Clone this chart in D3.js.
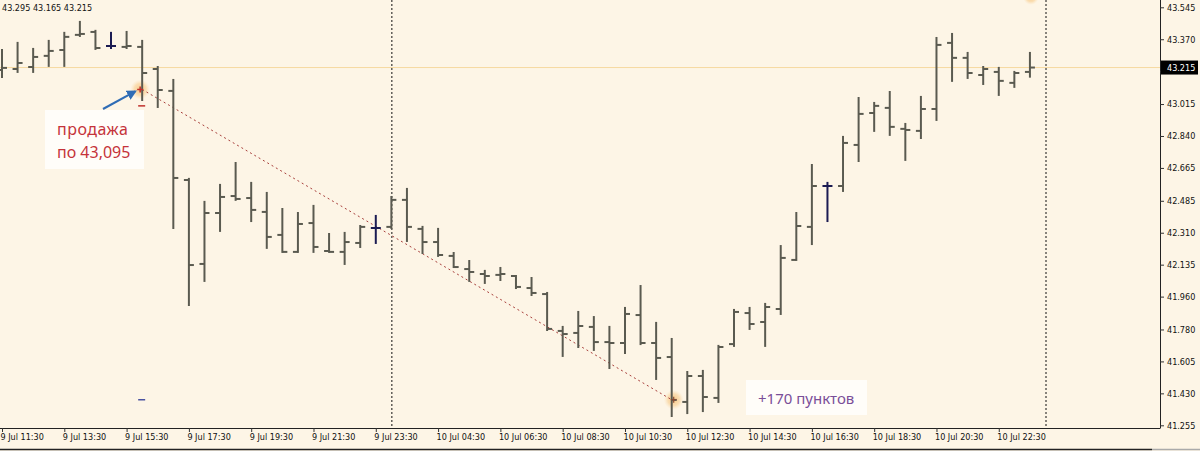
<!DOCTYPE html>
<html>
<head>
<meta charset="utf-8">
<script src="https://cdn.jsdelivr.net/npm/d3@7"></script>
<style>
  body { margin: 0; background: #fdf5e6; }
  svg { display: block; }
</style>
</head>
<body>
<div id="chart"></div>
<script>
// 30 min bars, 9 Jul 11:30 .. 10 Jul 23:30
var opens  = [43.202, 43.207, 43.218, 43.279, 43.311, 43.394, 43.410, 43.333, 43.328, 43.328,
              43.207, 43.087, 42.599, 42.139, 42.418, 42.511, 42.500, 42.424, 42.298, 42.205,
              42.363, 42.210, 42.205, 42.254, 42.336, 42.342, 42.490, 42.331, 42.259, 42.183,
              42.111, 42.084, 42.079, 42.073, 42.007, 41.974, 41.772, 41.761, 41.794, 41.711,
              41.706, 41.859, 41.706, 41.629, 41.383, 41.525, 41.405, 41.700, 41.870, 41.821,
              41.892, 42.161, 42.342, 42.566, 42.566, 42.791, 42.966, 42.994, 42.879, 42.868,
              42.988, 43.350, 43.268, 43.174, 43.191, 43.131, 43.191];
var highs  = [43.311, 43.350, 43.317, 43.361, 43.405, 43.465, 43.416, 43.405, 43.410, 43.361,
              43.218, 43.147, 42.605, 42.479, 42.572, 42.692, 42.583, 42.528, 42.440, 42.418,
              42.457, 42.303, 42.309, 42.347, 42.402, 42.506, 42.550, 42.342, 42.331, 42.199,
              42.155, 42.101, 42.117, 42.073, 42.062, 41.980, 41.794, 41.876, 41.848, 41.794,
              41.898, 42.018, 41.816, 41.728, 41.547, 41.553, 41.690, 41.887, 41.898, 41.920,
              42.237, 42.418, 42.681, 42.583, 42.835, 43.048, 43.021, 43.081, 42.906, 43.054,
              43.377, 43.399, 43.295, 43.218, 43.213, 43.191, 43.295];
var lows   = [43.163, 43.191, 43.191, 43.224, 43.224, 43.388, 43.317, 43.322, 43.322, 43.037,
              42.999, 42.336, 41.914, 42.046, 42.320, 42.490, 42.374, 42.227, 42.205, 42.205,
              42.205, 42.205, 42.139, 42.232, 42.254, 42.336, 42.265, 42.199, 42.183, 42.122,
              42.046, 42.035, 42.051, 42.007, 41.969, 41.777, 41.635, 41.684, 41.668, 41.569,
              41.651, 41.700, 41.509, 41.306, 41.322, 41.333, 41.383, 41.690, 41.783, 41.690,
              41.865, 42.161, 42.248, 42.374, 42.539, 42.703, 42.868, 42.846, 42.709, 42.829,
              42.928, 43.142, 43.158, 43.125, 43.065, 43.109, 43.165];
var closes = [43.213, 43.240, 43.273, 43.306, 43.383, 43.399, 43.322, 43.333, 43.333, 43.185,
              43.092, 42.610, 42.133, 42.418, 42.506, 42.495, 42.435, 42.287, 42.205, 42.358,
              42.232, 42.205, 42.259, 42.342, 42.336, 42.490, 42.342, 42.259, 42.188, 42.122,
              42.095, 42.073, 42.084, 42.013, 41.980, 41.783, 41.755, 41.799, 41.711, 41.706,
              41.865, 41.706, 41.624, 41.394, 41.525, 41.410, 41.684, 41.876, 41.810, 41.903,
              42.172, 42.347, 42.566, 42.566, 42.802, 42.961, 43.005, 42.890, 42.873, 42.988,
              43.339, 43.268, 43.185, 43.207, 43.142, 43.185, 43.215];

var xLabels = ["9 Jul 11:30", "9 Jul 13:30", "9 Jul 15:30", "9 Jul 17:30", "9 Jul 19:30",
               "9 Jul 21:30", "9 Jul 23:30", "10 Jul 04:30", "10 Jul 06:30", "10 Jul 08:30",
               "10 Jul 10:30", "10 Jul 12:30", "10 Jul 14:30", "10 Jul 16:30", "10 Jul 18:30",
               "10 Jul 20:30", "10 Jul 22:30"];
// 43.195 sits under the last-price box, so it has a tick but no label
var yTicks = [43.545, 43.370, 43.195, 43.015, 42.840, 42.665, 42.485, 42.310,
              42.135, 41.960, 41.780, 41.605, 41.430, 41.255];
var hiddenTick = 43.195;

var lastPrice = 43.215;
var separators = [25, 67];           // day separator bars
var trade = {openBar: 9, openPrice: 43.095, closeBar: 43, closePrice: 41.395};

var W = 1200, H = 451;
var plotRight = 1160, plotBottom = 428;
var font = "Tahoma, 'DejaVu Sans Condensed', sans-serif";

var svg = d3.select("#chart").append("svg")
    .attr("width", W)
    .attr("height", H);

svg.append("rect").attr("width", W).attr("height", H).attr("fill", "#fdf5e6");

var defs = svg.append("defs");
defs.append("clipPath").attr("id", "plot")
  .append("rect").attr("x", 0).attr("y", 0).attr("width", plotRight).attr("height", plotBottom);
var glow = defs.append("radialGradient").attr("id", "glow");
glow.append("stop").attr("offset", "0%").attr("stop-color", "#f7c27a").attr("stop-opacity", 0.9);
glow.append("stop").attr("offset", "60%").attr("stop-color", "#f8cf92").attr("stop-opacity", 0.6);
glow.append("stop").attr("offset", "100%").attr("stop-color", "#fbe2bb").attr("stop-opacity", 0);
defs.append("marker").attr("id", "arrow")
    .attr("viewBox", "0 0 10 10").attr("refX", 8).attr("refY", 5)
    .attr("markerWidth", 5).attr("markerHeight", 5).attr("orient", "auto")
  .append("path").attr("d", "M0,0 L10,5 L0,10 z").attr("fill", "#2f6cb5");

var x = d3.scaleLinear().domain([0, 67]).range([2, 1045.5]);
var y = d3.scaleLinear().domain([41.255, 43.545]).range([425.3, 7.3]);

var plot = svg.append("g").attr("clip-path", "url(#plot)");

// last price line
plot.append("line")
    .attr("x1", 0).attr("x2", plotRight)
    .attr("y1", y(lastPrice)).attr("y2", y(lastPrice))
    .attr("stroke", "#f6d9a0").attr("stroke-width", 1);

// day separators
plot.selectAll(".sep").data(separators).enter().append("line")
    .attr("class", "sep")
    .attr("x1", d => x(d) + 0.5).attr("x2", d => x(d) + 0.5)
    .attr("y1", 0).attr("y2", plotBottom)
    .attr("stroke", "#111").attr("stroke-width", 1)
    .attr("stroke-dasharray", "2,2");

// glow markers
plot.append("circle").attr("cx", x(trade.openBar) - 2).attr("cy", y(trade.openPrice))
    .attr("r", 10).attr("fill", "url(#glow)");
plot.append("circle").attr("cx", x(trade.closeBar) + 2).attr("cy", y(trade.closePrice))
    .attr("r", 10).attr("fill", "url(#glow)");
plot.append("circle").attr("cx", x(66) + 1).attr("cy", -3)
    .attr("r", 8).attr("fill", "url(#glow)");

// trade line
plot.append("line")
    .attr("x1", x(trade.openBar)).attr("y1", y(trade.openPrice))
    .attr("x2", x(trade.closeBar)).attr("y2", y(trade.closePrice))
    .attr("stroke", "#a8403c").attr("stroke-width", 1)
    .attr("stroke-dasharray", "2,3");

// OHLC bars
var bars = opens.map(function(o, i) {
  return {i: i, o: o, h: highs[i], l: lows[i], c: closes[i]};
});
var g = plot.selectAll(".bar").data(bars).enter().append("g")
    .attr("class", "bar")
    .attr("stroke", d => d.o === d.c ? "#1b1b52" : "#5a5a50")
    .attr("stroke-width", 2);
g.append("line")
    .attr("x1", d => x(d.i)).attr("x2", d => x(d.i))
    .attr("y1", d => y(d.h) - 1).attr("y2", d => y(d.l) + 1);
g.append("line")
    .attr("x1", d => x(d.i) - 5).attr("x2", d => x(d.i))
    .attr("y1", d => y(d.o)).attr("y2", d => y(d.o));
g.append("line")
    .attr("x1", d => x(d.i)).attr("x2", d => x(d.i) + 5)
    .attr("y1", d => y(d.c)).attr("y2", d => y(d.c));

// trade marks
var ox = x(trade.openBar) - 2, oy = y(trade.openPrice);
plot.append("path").attr("d", "M" + (ox - 3) + "," + oy + "h6M" + ox + "," + (oy - 3) + "v6")
    .attr("stroke", "#c0302c").attr("stroke-width", 1.5);
plot.append("line").attr("x1", ox - 2).attr("x2", ox + 5)
    .attr("y1", y(43.005)).attr("y2", y(43.005))
    .attr("stroke", "#c0302c").attr("stroke-width", 1.5);
plot.append("line").attr("x1", ox - 2).attr("x2", ox + 5)
    .attr("y1", y(trade.closePrice)).attr("y2", y(trade.closePrice))
    .attr("stroke", "#4a52a0").attr("stroke-width", 1.5);
var cx2 = x(trade.closeBar) + 2, cy2 = y(trade.closePrice);
plot.append("path").attr("d", "M" + (cx2 - 3) + "," + cy2 + "h6M" + cx2 + "," + (cy2 - 3) + "v6")
    .attr("stroke", "#8a4a30").attr("stroke-width", 1.2);

// arrow to the entry
plot.append("line")
    .attr("x1", 103).attr("y1", 109)
    .attr("x2", ox - 5).attr("y2", oy + 2)
    .attr("stroke", "#2f6cb5").attr("stroke-width", 2)
    .attr("marker-end", "url(#arrow)");

// notes
var note1 = svg.append("g");
note1.append("rect").attr("x", 45).attr("y", 110).attr("width", 99).attr("height", 59)
    .attr("fill", "#fffdf9");
note1.append("text").attr("x", 57).attr("y", 135).text("продажа")
    .attr("fill", "#c5333a").style("font", "16px 'Noto Sans', sans-serif").style("letter-spacing", "0.5px");
note1.append("text").attr("x", 57).attr("y", 158).text("по 43,095")
    .attr("fill", "#c5333a").style("font", "16px 'Noto Sans', sans-serif");

var note2 = svg.append("g");
note2.append("rect").attr("x", 746).attr("y", 380).attr("width", 121).attr("height", 35)
    .attr("fill", "#fffdf9");
note2.append("text").attr("x", 758).attr("y", 404).text("+170 пунктов")
    .attr("fill", "#7a4e98").style("font", "15px 'Noto Sans', sans-serif");

// axes
var xAxis = svg.append("g")
    .attr("transform", "translate(0," + plotBottom + ")")
    .call(d3.axisBottom(x).tickValues(d3.range(0, 65, 4))
          .tickFormat((d, i) => xLabels[i]).tickSize(4).tickSizeOuter(0));
xAxis.select(".domain").attr("d", "M0,0.5H" + plotRight).attr("stroke", "#222");
xAxis.selectAll(".tick line").attr("stroke", "#333");
xAxis.selectAll(".tick text")
    .attr("text-anchor", "start").attr("x", -2).attr("y", 6).attr("dy", "0.71em")
    .attr("fill", "#111").style("font", "9px " + font);

var yAxis = svg.append("g")
    .attr("transform", "translate(" + plotRight + ",0)")
    .call(d3.axisRight(y).tickValues(yTicks)
          .tickFormat(d => d === hiddenTick ? "" : d3.format(".3f")(d))
          .tickSize(4).tickSizeOuter(0));
yAxis.select(".domain").attr("d", "M0.5,0V" + (plotBottom + 0.5)).attr("stroke", "#222");
yAxis.selectAll(".tick line").attr("stroke", "#333");
yAxis.selectAll(".tick text").attr("x", 7)
    .attr("fill", "#111").style("font", "9px " + font);

// last price label
var lp = svg.append("g").attr("transform", "translate(" + (plotRight + 1) + "," + y(lastPrice) + ")");
lp.append("rect").attr("x", 0).attr("y", -7).attr("width", 37).attr("height", 14).attr("fill", "#000");
lp.append("text").attr("x", 6).attr("dy", "0.35em").text(d3.format(".3f")(lastPrice))
    .attr("fill", "#fff").style("font", "9px " + font);

// header values of the last bar
svg.append("text").attr("x", 2).attr("y", 11)
    .text([highs[66], lows[66], closes[66]].map(d3.format(".3f")).join(" "))
    .attr("fill", "#111").style("font", "9px " + font);

// window border
svg.append("line").attr("x1", 0).attr("x2", 1152).attr("y1", 449.5).attr("y2", 449.5)
    .attr("stroke", "#222").attr("stroke-width", 1.5);
svg.append("line").attr("x1", 1152).attr("x2", W).attr("y1", 449.5).attr("y2", 449.5)
    .attr("stroke", "#aaa").attr("stroke-width", 1.5);
</script>
</body>
</html>
